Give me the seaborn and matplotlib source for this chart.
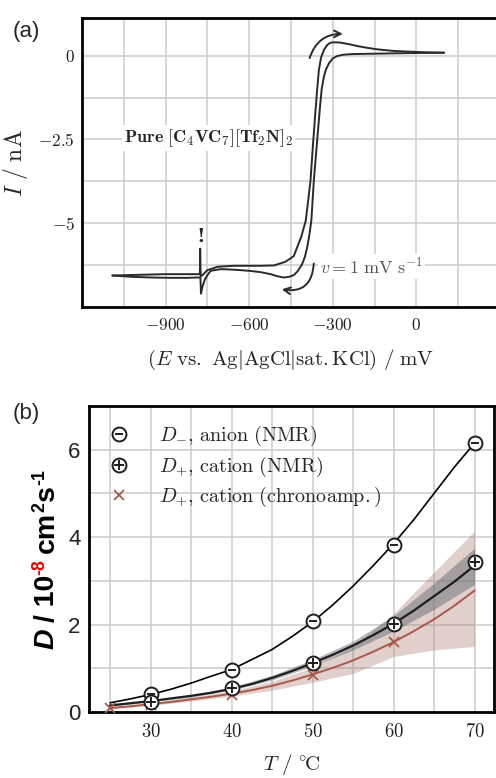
import matplotlib
matplotlib.use('Agg')
import matplotlib.pyplot as plt
from matplotlib.legend_handler import HandlerTuple
from matplotlib.transforms import IdentityTransform
import seaborn as sns
import numpy as np

# ---- panel (a): cyclic voltammogram ----
fwd_E = [100, 0, -81, -150, -225, -262, -284, -300, -314, -325, -332, -340, -347,
         -356, -368, -377, -385, -392, -400, -410, -425, -440, -458, -476, -500,
         -523, -559, -600, -631, -670, -702, -738, -750, -760, -768, -773, -775,
         -790, -820, -880, -950, -1020, -1091]
fwd_I = [0.09, 0.08, 0.07, 0.06, 0.05, 0.03, -0.01, -0.08, -0.23, -0.42, -0.63, -1.00, -1.63,
         -2.52, -3.72, -4.92, -5.40, -5.72, -6.00, -6.22, -6.42, -6.55, -6.60, -6.62, -6.58,
         -6.52, -6.46, -6.42, -6.40, -6.38, -6.37, -6.42, -6.55, -6.70, -6.90, -7.10, -6.62,
         -6.62, -6.63, -6.63, -6.62, -6.60, -6.56]
rev_E = [-1091, -1000, -900, -820, -790, -777, -776, -774, -768, -750, -714, -655, -559,
         -511, -470, -440, -428, -413, -397, -388, -380, -370, -362, -356, -350, -342,
         -332, -320, -308, -290, -272, -240, -213, -180, -141, -80, -22, 40, 98]
rev_I = [-6.56, -6.54, -6.52, -6.52, -6.52, -6.52, -5.76, -6.58, -6.55, -6.40, -6.30, -6.27, -6.27,
         -6.26, -6.15, -5.98, -5.72, -5.40, -4.92, -4.30, -3.72, -2.52, -1.63, -1.00, -0.43, -0.05,
         0.17, 0.32, 0.39, 0.40, 0.39, 0.34, 0.29, 0.24, 0.19, 0.14, 0.12, 0.10, 0.09]

# ---- panel (b): diffusion coefficients ----
T_nmr = [30, 40, 50, 60, 70]
D_anion = [0.42, 0.96, 2.08, 3.81, 6.15]
D_cation = [0.23, 0.54, 1.13, 2.01, 3.43]
T_chrono = [25, 30, 40, 50, 60]
D_chrono = [0.10, 0.17, 0.40, 0.84, 1.61]

T_fit = [25, 27.5, 30, 32.5, 35, 37.5, 40, 42.5, 45, 47.5, 50, 52.5, 55, 57.5, 60, 62.5, 65, 67.5, 70]
anion_fit = [0.21, 0.30, 0.40, 0.52, 0.66, 0.82, 0.97, 1.20, 1.43, 1.73, 2.06, 2.45, 2.88, 3.35,
             3.85, 4.40, 5.00, 5.60, 6.15]
cation_fit = [0.15, 0.20, 0.25, 0.31, 0.37, 0.44, 0.53, 0.64, 0.78, 0.94, 1.12, 1.31, 1.52, 1.76,
              2.02, 2.32, 2.65, 2.98, 3.35]
chrono_fit = [0.09, 0.13, 0.18, 0.23, 0.29, 0.35, 0.42, 0.50, 0.60, 0.72, 0.86, 1.01, 1.18, 1.38,
              1.60, 1.85, 2.12, 2.43, 2.78]

T_band = [25, 30, 35, 40, 45, 50, 55, 60, 65, 70]
cation_hi = [0.17, 0.27, 0.40, 0.57, 0.84, 1.20, 1.62, 2.20, 2.95, 3.75]
cation_lo = [0.13, 0.23, 0.34, 0.50, 0.73, 1.05, 1.42, 1.85, 2.35, 2.92]
chrono_hi = [0.12, 0.21, 0.34, 0.48, 0.70, 1.02, 1.50, 2.25, 3.20, 4.14]
chrono_lo = [0.07, 0.15, 0.25, 0.36, 0.50, 0.68, 0.88, 1.27, 1.42, 1.50]

sns.set_theme(style='white')
plt.rcParams['mathtext.fontset'] = 'cm'
plt.rcParams['font.family'] = ['DejaVu Serif']

GRID = '#cfcfcf'
BROWN = '#a65a4c'
W, H = 496, 778

fig = plt.figure(figsize=(W / 100, H / 100), dpi=100)

def style_axes(ax):
    for s in ax.spines.values():
        s.set_color('black')
        s.set_linewidth(2)
    ax.grid(True, color=GRID, linewidth=1.2)
    ax.set_axisbelow(True)
    ax.tick_params(direction='in', length=6, width=1.6, color='black', labelcolor='#222222')

# ================= (a) =================
axa = fig.add_axes([82 / W, 1 - 307 / H, (500 - 82) / W, (307 - 18) / H])
sns.lineplot(x=fwd_E, y=fwd_I, sort=False, color='#2a2a2a', lw=1.4, ax=axa)
sns.lineplot(x=rev_E, y=rev_I, sort=False, color='#2a2a2a', lw=1.4, ax=axa)
axa.set_xlim(-1200, 300)
axa.set_ylim(-7.5, 1.125)
style_axes(axa)
xt = np.arange(-1050, 151, 150)
axa.set_xticks(xt, labels=['$-900$' if v == -900 else '$-600$' if v == -600 else
                           '$-300$' if v == -300 else '$0$' if v == 0 else '' for v in xt],
               fontsize=12.5)
yt = [0, -1.25, -2.5, -3.75, -5, -6.25]
axa.set_yticks(yt, labels=['$0$', '', '$-2.5$', '', '$-5$', ''], fontsize=12.5)
axa.tick_params(axis='x', pad=7)
axa.tick_params(axis='y', pad=5)
axa.set_xlabel(r'$(E\ \mathrm{vs.\ Ag{|}AgCl{|}sat{.}KCl)\ /\ mV}$', fontsize=15, labelpad=10)
axa.set_ylabel(r'$I\ /\ \mathrm{nA}$', fontsize=17, labelpad=6)

box = dict(facecolor='white', edgecolor='none', pad=1.5)
axa.text(-1050, -2.47, r'$\mathbf{Pure\ [C_4VC_7][Tf_2N]_2}$', fontsize=13,
         ha='left', va='center', bbox=box)
axa.text(-345, -6.3, r'$v = 1\ \mathrm{mV\ s^{-1}}$', fontsize=13, color='#555555',
         ha='left', va='center', bbox=box)
axa.text(-775, -5.42, '!', fontsize=14, weight='bold', ha='center', va='center')
axa.annotate('', xy=(-254, 0.65), xytext=(-386, -0.15),
             arrowprops=dict(arrowstyle='->', color='#2a2a2a', lw=1.4,
                             connectionstyle='arc3,rad=-0.4'))
axa.annotate('', xy=(-493, -6.96), xytext=(-368, -6.12),
             arrowprops=dict(arrowstyle='->', color='#2a2a2a', lw=1.4,
                             connectionstyle='arc3,rad=-0.6'))
fig.text(13 / W, 1 - 31 / H, '(a)', fontsize=16, family='Liberation Sans', va='center')

# ================= (b) =================
axb = fig.add_axes([89 / W, 1 - 712 / H, (494 - 89) / W, (712 - 406) / H])
axb.fill_between(T_band, chrono_lo, chrono_hi, color='#a8776c', alpha=0.35, lw=0)
axb.fill_between(T_band, cation_lo, cation_hi, color='#5d646c', alpha=0.45, lw=0)
sns.lineplot(x=T_fit, y=anion_fit, color='black', lw=1.2, ax=axb)
sns.lineplot(x=T_fit, y=cation_fit, color='#1e1e1e', lw=1.6, ax=axb)
sns.lineplot(x=T_fit, y=chrono_fit, color=BROWN, lw=1.4, ax=axb)

circ = dict(ls='none', marker='o', ms=10, mfc='white', mec='#1e1e1e', mew=1.4)
h1a, = axb.plot(T_nmr, D_anion, **circ, zorder=5)
h1b, = axb.plot(T_nmr, D_anion, ls='none', marker='_', ms=6, mec='#1e1e1e', mew=1.4, zorder=6)
h2a, = axb.plot(T_nmr, D_cation, **circ, zorder=5)
h2b, = axb.plot(T_nmr, D_cation, ls='none', marker='+', ms=6.5, mec='#1e1e1e', mew=1.4, zorder=6)
h3, = axb.plot(T_chrono, D_chrono, ls='none', marker='x', ms=7, mec=BROWN, mew=1.3, zorder=4)

axb.set_xlim(22.4, 72.4)
axb.set_ylim(0, 7)
style_axes(axb)
axb.set_xticks(np.arange(25, 71, 5),
               labels=['' if v % 10 else f'${v}$' for v in range(25, 71, 5)], fontsize=13.5)
axb.set_yticks(range(8), labels=['0', '', '2', '', '4', '', '6', ''],
               fontsize=16, family='Liberation Sans')
axb.tick_params(axis='x', pad=8)
axb.tick_params(axis='y', pad=6)
axb.set_xlabel(r'$T\ /\ {}^{\circ}\!\mathrm{C}$', fontsize=15, labelpad=8)

leg = axb.legend([(h1a, h1b), (h2a, h2b), h3],
                 [r'$D_{-}{,}\ \mathrm{anion\ (NMR)}$',
                  r'$D_{+}{,}\ \mathrm{cation\ (NMR)}$',
                  r'$D_{+}{,}\ \mathrm{cation\ (chronoamp.)}$'],
                 handler_map={tuple: HandlerTuple(ndivide=1)},
                 loc='upper left', bbox_to_anchor=(0.0, 1.0), frameon=False,
                 fontsize=14.5, handlelength=1.2, handletextpad=1.4, labelspacing=0.32)

fig.text(13 / W, 1 - 413 / H, '(b)', fontsize=16, family='Liberation Sans', va='center')

# rotated multi-colour y label of panel (b)
renderer = fig.canvas.get_renderer()
fs = 20.5
pieces = [('D', fs, 0, 'black', 'italic'),
          ('/ 10', fs, 0, 'black', 'normal'),
          ('-8', fs * 0.62, -10, '#e00000', 'normal'),
          ('cm', fs, 0, 'black', 'normal'),
          ('2', fs * 0.62, -10, 'black', 'normal'),
          ('s', fs, 0, 'black', 'normal'),
          ('-1', fs * 0.62, -10, 'black', 'normal')]
gaps = [6, 0, 6, 0, 1, 0, 0]
x_base = 54
texts = []
for txt, size, dx, col, st in pieces:
    t = fig.text(x_base + dx, 0, txt, transform=IdentityTransform(), rotation=90,
                 rotation_mode='anchor', ha='left', va='baseline', fontsize=size,
                 color=col, style=st, weight='bold', family=['Liberation Sans', 'DejaVu Sans'])
    texts.append(t)
lengths = [t.get_window_extent(renderer).height for t in texts]
total = sum(lengths) + sum(gaps)
y = (1 - 559 / H) * H - total / 2
for t, L, g in zip(texts, lengths, gaps):
    t.set_y(y)
    y += L + g

fig.savefig('out.png', dpi=100)
